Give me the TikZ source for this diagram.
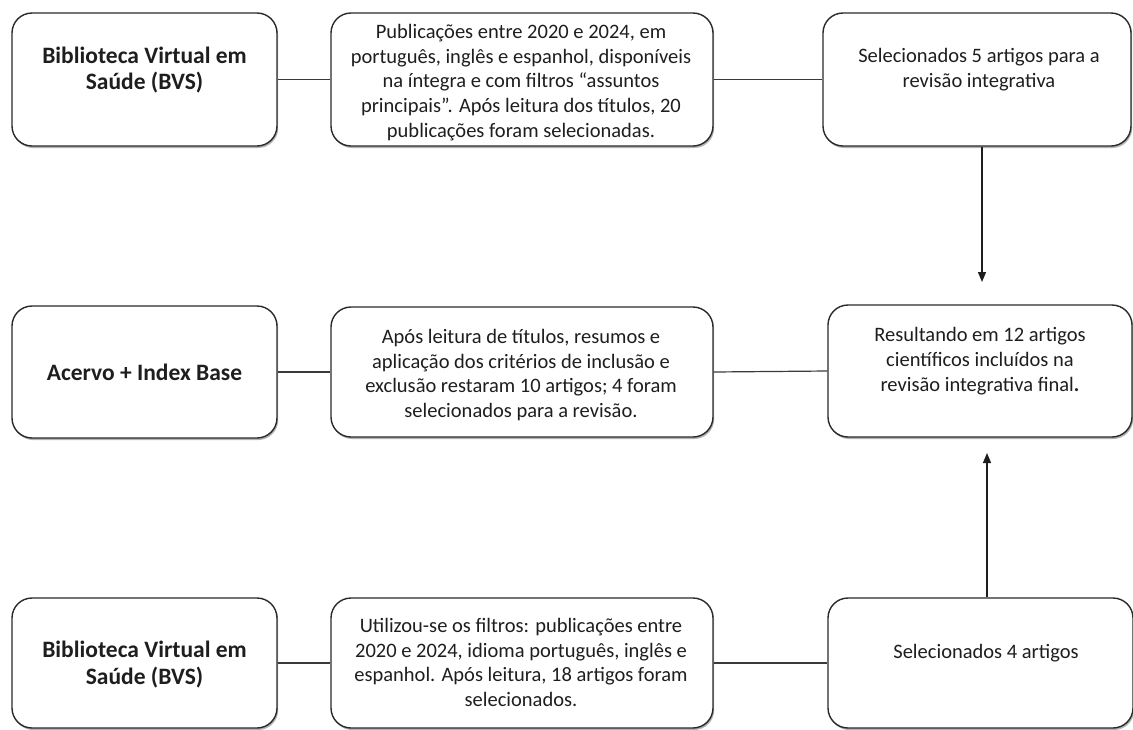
\documentclass[tikz,border=0pt]{standalone}
\usepackage{fontspec}
\setmainfont{Carlito}
\usetikzlibrary{arrows.meta,shadows}
\definecolor{ink}{HTML}{1E1E1E}
\definecolor{edge}{HTML}{2A2A2A}
\definecolor{wire}{HTML}{3A3A3A}
\begin{document}
\begin{tikzpicture}[x=1pt,y=-1pt,
  box/.style={draw=edge, line width=1.4pt, rounded corners=20pt, fill=white, inner sep=0pt,
    drop shadow={shadow xshift=1.2pt, shadow yshift=-2pt, fill=black, opacity=0.3}},
  txt/.style={align=center, text=ink, inner sep=0pt, font=\fontsize{20.5}{24.7}\selectfont},
  btxt/.style={align=center, text=ink, inner sep=0pt, font=\fontsize{23.5}{26.5}\selectfont\bfseries},
  wireline/.style={draw=wire, line width=1.2pt},
  arrowline/.style={draw=ink, line width=1.3pt, -{Triangle[length=10pt,width=8pt]}}]
\useasboundingbox (0,0) rectangle (1133,729);
% row 1
\node[box, minimum width=265pt, minimum height=133pt] (a1) at (144.5,79.5) {};
\node[box, minimum width=382pt, minimum height=133pt] (b1) at (522,79.5) {};
\node[box, minimum width=308pt, minimum height=133pt] (c1) at (977,79.5) {};
% row 2
\node[box, minimum width=265pt, minimum height=132pt] (a2) at (144.5,372) {};
\node[box, minimum width=382pt, minimum height=130pt] (b2) at (522,372) {};
\node[box, minimum width=304pt, minimum height=132pt] (c2) at (980,371) {};
% row 3
\node[box, minimum width=265pt, minimum height=130pt] (a3) at (144.5,663) {};
\node[box, minimum width=382pt, minimum height=130pt] (b3) at (522,663) {};
\node[box, minimum width=305pt, minimum height=130pt] (c3) at (980.5,663) {};
% texts
\node[btxt] (a1t) at (144.5,70) {Biblioteca Virtual em\\Saúde (BVS)};
\node[txt] (b1t) at (521,82.5) {Publicações entre 2020 e 2024, em\\português, inglês e espanhol, disponíveis\\na íntegra e com filtros “assuntos\\principais”. Após leitura dos títulos, 20\\publicações foram selecionadas.};
\node[txt] (c1t) at (979,69.7) {Selecionados 5 artigos para a\\revisão integrativa};
\node[btxt] (a2t) at (144.5,372) {Acervo + Index Base};
\node[txt] (b2t) at (521,375) {Após leitura de títulos, resumos e\\aplicação dos critérios de inclusão e\\exclusão restaram 10 artigos; 4 foram\\selecionados para a revisão.};
\node[txt] (c2t) at (980,361) {Resultando em 12 artigos\\científicos incluídos na\\revisão integrativa final\textbf{.}};
\node[btxt] (a3t) at (144.5,664.4) {Biblioteca Virtual em\\Saúde (BVS)};
\node[txt] (b3t) at (521,662.5) {Utilizou-se os filtros: publicações entre\\2020 e 2024, idioma português, inglês e\\espanhol. Após leitura, 18 artigos foram\\selecionados.};
\node[txt] (c3t) at (986,653) {Selecionados 4 artigos};
% connectors
\draw[wireline] (a1.east) -- (b1.west);
\draw[wireline] (b1.east) -- (c1.west);
\draw[wireline] (a2.east) -- (b2.west);
\draw[wireline] (b2.east) -- (c2.west);
\draw[wireline] (a3.east) -- (b3.west);
\draw[wireline] (b3.east) -- (c3.west);
\coordinate (t1) at (982,282);
\draw[arrowline] (c1.south -| t1) -- (t1);
\coordinate (t2) at (987,453);
\draw[arrowline] (c3.north -| t2) -- (t2);
\end{tikzpicture}
\end{document}
